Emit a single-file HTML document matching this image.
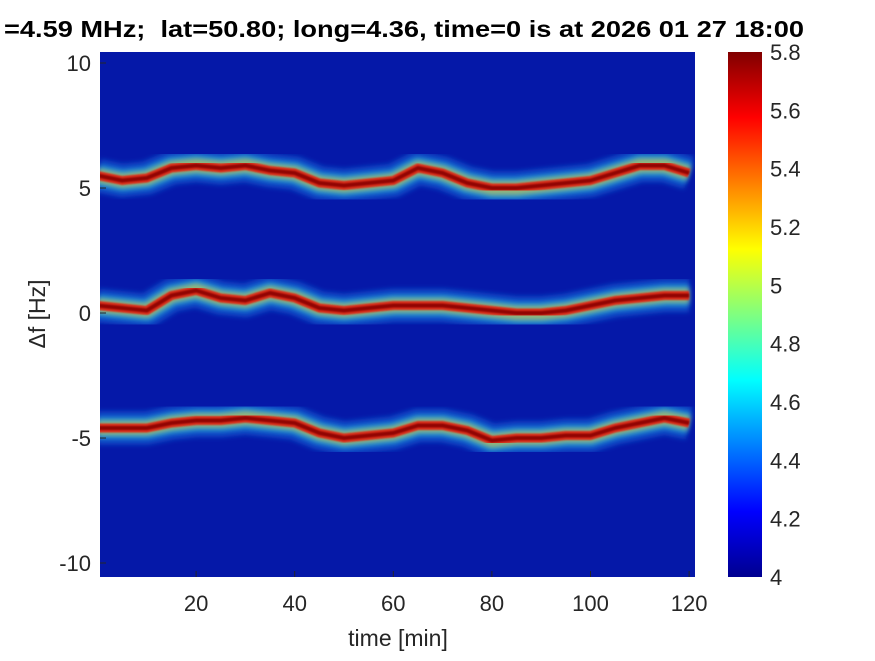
<!DOCTYPE html>
<html><head><meta charset="utf-8"><style>
body{margin:0;background:#fff;}
svg text{font-family:"Liberation Sans",sans-serif;}
</style></head><body>
<svg id="chart" width="875" height="656" viewBox="0 0 875 656">
<defs>
<filter id="blur3" x="-10%" y="-50%" width="120%" height="200%"><feGaussianBlur stdDeviation="2.5"/></filter>
<filter id="blur1"><feGaussianBlur stdDeviation="0.8"/></filter>
<linearGradient id="jet" x1="0" y1="1" x2="0" y2="0">
<stop offset="0" stop-color="#00008f"/><stop offset="0.125" stop-color="#0000ff"/>
<stop offset="0.375" stop-color="#00ffff"/><stop offset="0.625" stop-color="#ffff00"/>
<stop offset="0.875" stop-color="#ff0000"/><stop offset="1" stop-color="#800000"/>
</linearGradient>
<clipPath id="plotclip"><rect x="100" y="52" width="595" height="525"/></clipPath>
</defs>
<text x="4" y="37" font-size="23" font-weight="bold" fill="#000" textLength="800" lengthAdjust="spacingAndGlyphs" xml:space="preserve">=4.59 MHz;  lat=50.80; long=4.36, time=0 is at 2026 01 27 18:00</text>
<rect x="100" y="52" width="595" height="525" fill="#0518a8"/>
<g id="bands" clip-path="url(#plotclip)"></g>
<g id="axes"></g>
<rect x="728" y="52" width="34" height="525" fill="url(#jet)"/>
<g id="cbar"></g>
<text x="398" y="646" text-anchor="middle" font-size="23" fill="#262626">time [min]</text>
<text transform="translate(45,314) rotate(-90)" text-anchor="middle" font-size="23" fill="#262626">Δf [Hz]</text>
</svg>
<script>
const times = [0,5,10,15,20,25,30,35,40,45,50,55,60,65,70,75,80,85,90,95,100,105,110,115,120];
const upperBand = [5.5,5.3,5.4,5.8,5.9,5.8,5.9,5.7,5.6,5.2,5.1,5.2,5.3,5.8,5.6,5.2,5.0,5.0,5.1,5.2,5.3,5.6,5.9,5.9,5.6];
const middleBand = [0.3,0.2,0.1,0.7,0.9,0.6,0.5,0.8,0.6,0.2,0.1,0.2,0.3,0.3,0.3,0.2,0.1,0.0,0.0,0.1,0.3,0.5,0.6,0.7,0.7];
const lowerBand = [-4.6,-4.6,-4.6,-4.4,-4.3,-4.3,-4.2,-4.3,-4.4,-4.8,-5.0,-4.9,-4.8,-4.5,-4.5,-4.7,-5.1,-5.0,-5.0,-4.9,-4.9,-4.6,-4.4,-4.2,-4.4];
const xTicks = [20,40,60,80,100,120];
const yTicks = [10,5,0,-5,-10];
const cTicks = [5.8,5.6,5.4,5.2,5,4.8,4.6,4.4,4.2,4];
const NS='http://www.w3.org/2000/svg';
const X = t => 97.5 + t*4.93;
const Y = f => 313 - f*25;
const C = v => 577 - (v-4)/1.8*525;
function mk(tag, attrs, parent){const e=document.createElementNS(NS,tag);for(const k in attrs)e.setAttribute(k,attrs[k]);parent.appendChild(e);return e;}
const bands=document.getElementById('bands');
const layers=[[34,'#1a6fe0',0.5,'url(#blur3)'],[22,'#30c8e0',0.55,'url(#blur3)'],[14,'#e0d040',0.6,'url(#blur3)'],[9,'#e02010',0.9,'url(#blur1)'],[4,'#8a0000',0.9,'url(#blur1)']];
[['upper-band',upperBand],['middle-band',middleBand],['lower-band',lowerBand]].forEach(([name,vals])=>{
  const d = vals.map((v,i)=>(i?'L':'M')+X(times[i]).toFixed(1)+' '+Y(v).toFixed(1)).join(' ');
  layers.forEach(([w,c,o,f])=>{
    const p=mk('path',{d:d,fill:'none',stroke:c,'stroke-width':w,'stroke-opacity':o,filter:f,'stroke-linejoin':'round'},bands);
    
    
  });
});
const axes=document.getElementById('axes');
xTicks.forEach(t=>{
  const l=mk('line',{x1:X(t),x2:X(t),y1:577,y2:571,stroke:'#262626'},axes);
  
  
  const tx=mk('text',{x:X(t),y:611,'text-anchor':'middle','font-size':22,fill:'#262626'},axes);
  tx.textContent=t;
  
  
});
yTicks.forEach(v=>{
  const l=mk('line',{x1:100,x2:106,y1:Y(v),y2:Y(v),stroke:'#262626'},axes);
  
  
  const tx=mk('text',{x:91,y:Y(v)+8,'text-anchor':'end','font-size':22,fill:'#262626'},axes);
  tx.textContent=v;
  
  
});
const cb=document.getElementById('cbar');
cTicks.forEach(v=>{
  const tx=mk('text',{x:770,y:C(v)+8,'font-size':22,fill:'#262626'},cb);
  tx.textContent=v;
  
  
});
</script>
</body></html>
